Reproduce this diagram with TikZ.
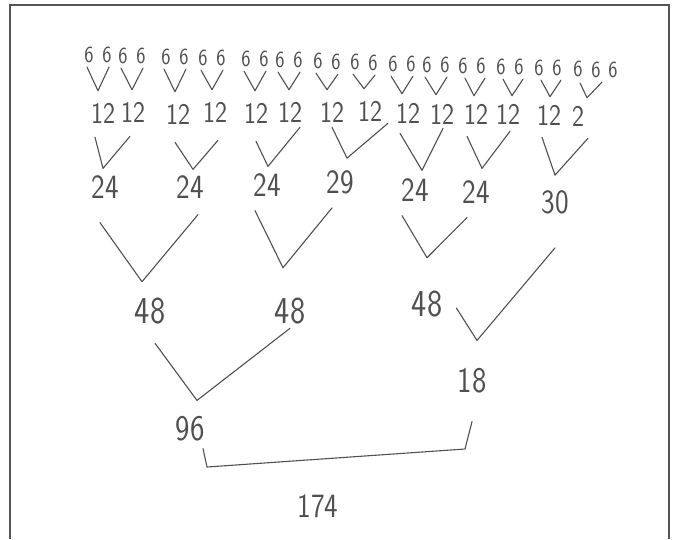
\documentclass[tikz,border=0pt]{standalone}
\usepackage{fontspec}
\usepackage{tikz}
\usetikzlibrary{calc}
\newfontfamily\hand{Latin Modern Sans}[FakeStretch=0.85]
\definecolor{ink}{HTML}{505050}
\definecolor{framegray}{HTML}{555555}

\begin{document}
\begin{tikzpicture}[x=1pt, y=-1pt,
    num/.style={text=ink, inner sep=2pt, font=\hand\fontsize{#1}{#1}\selectfont},
    num/.default=34,
    vee/.style={ink, line width=1.1pt, line cap=round, line join=round}]
  \useasboundingbox (0,0) rectangle (679,539);
  % Rahmen (unten offen)
  \draw[framegray, line width=1.3pt] (10,539) -- (10,5) -- (669,5) -- (669,539);
  % erste Zeile: Sechsen
  \node[num=23] (s1) at (89,55) {6};   \node[num=23] (s2) at (107,55) {6};
  \node[num=23] (s3) at (123,56) {6};  \node[num=23] (s4) at (141,56) {6};
  \node[num=23] (s5) at (166,57) {6};  \node[num=23] (s6) at (184,57) {6};
  \node[num=23] (s7) at (203,58) {6};  \node[num=23] (s8) at (221,58) {6};
  \node[num=23] (s9) at (246,59) {6};  \node[num=23] (s10) at (264,59) {6};
  \node[num=23] (s11) at (280,60) {6}; \node[num=23] (s12) at (298,60) {6};
  \node[num=23] (s13) at (318,61) {6}; \node[num=23] (s14) at (336,62) {6};
  \node[num=23] (s15) at (355,62) {6}; \node[num=23] (s16) at (373,63) {6};
  \node[num=23] (s17) at (393,64) {6}; \node[num=23] (s18) at (411,64) {6};
  \node[num=23] (s19) at (427,65) {6}; \node[num=23] (s20) at (445,65) {6};
  \node[num=23] (s21) at (463,66) {6}; \node[num=23] (s22) at (481,66) {6};
  \node[num=23] (s23) at (501,67) {6}; \node[num=23] (s24) at (519,67) {6};
  \node[num=23] (s25) at (539,68) {6}; \node[num=23] (s26) at (557,68) {6};
  \node[num=23] (s27) at (578,69) {6}; \node[num=23] (s28) at (596,70) {6};
  \node[num=23] (s29) at (613,70) {6};
  % zweite Zeile
  \node[num=30] (t1) at (103,113) {12};  \node[num=30] (t2) at (133,112) {12};
  \node[num=30] (t3) at (178,114) {12};  \node[num=30] (t4) at (215,112) {12};
  \node[num=30] (t5) at (256,113) {12};  \node[num=30] (t6) at (290,112) {12};
  \node[num=30] (t7) at (332,112) {12};  \node[num=30] (t8) at (370,111) {12};
  \node[num=30] (t9) at (408,113) {12};  \node[num=30] (t10) at (442,114) {12};
  \node[num=30] (t11) at (476,114) {12}; \node[num=30] (t12) at (508,114) {12};
  \node[num=30] (t13) at (549,115) {12}; \node[num=30] (t14) at (578,116) {2};
  \draw[vee] ([xshift=-2pt,yshift=-2pt]s1.south) -- ([xshift=-5pt,yshift=10pt]t1.north) -- ([xshift=2pt,yshift=-2pt]s2.south);
  \draw[vee] ([xshift=-2pt,yshift=-2pt]s3.south) -- ([xshift=-1pt,yshift=10pt]t2.north) -- ([xshift=2pt,yshift=-2pt]s4.south);
  \draw[vee] ([xshift=-2pt,yshift=-2pt]s5.south) -- ([xshift=-3pt,yshift=10pt]t3.north) -- ([xshift=2pt,yshift=-2pt]s6.south);
  \draw[vee] ([xshift=-2pt,yshift=-2pt]s7.south) -- ([xshift=-3pt,yshift=10pt]t4.north) -- ([xshift=2pt,yshift=-2pt]s8.south);
  \draw[vee] ([xshift=-2pt,yshift=-2pt]s9.south) -- ([xshift=-1pt,yshift=10pt]t5.north) -- ([xshift=2pt,yshift=-2pt]s10.south);
  \draw[vee] ([xshift=-2pt,yshift=-2pt]s11.south) -- ([xshift=-1pt,yshift=10pt]t6.north) -- ([xshift=2pt,yshift=-2pt]s12.south);
  \draw[vee] ([xshift=-2pt,yshift=-2pt]s13.south) -- ([xshift=-5pt,yshift=10pt]t7.north) -- ([xshift=2pt,yshift=-2pt]s14.south);
  \draw[vee] ([xshift=-2pt,yshift=-2pt]s15.south) -- ([xshift=-6pt,yshift=10pt]t8.north) -- ([xshift=2pt,yshift=-2pt]s16.south);
  \draw[vee] ([xshift=-2pt,yshift=-2pt]s17.south) -- ([xshift=-6pt,yshift=7pt]t9.north) -- ([xshift=2pt,yshift=-2pt]s18.south);
  \draw[vee] ([xshift=-2pt,yshift=-2pt]s19.south) -- ([xshift=-6pt,yshift=7pt]t10.north) -- ([xshift=2pt,yshift=-2pt]s20.south);
  \draw[vee] ([xshift=2pt,yshift=-2pt]s21.south) -- ([xshift=-2pt,yshift=6pt]t11.north) -- ([xshift=4pt,yshift=-2pt]s22.south);
  \draw[vee] ([xshift=2pt,yshift=-2pt]s23.south) -- ([xshift=4pt,yshift=6pt]t12.north) -- ([xshift=4pt,yshift=-2pt]s24.south);
  \draw[vee] ([xshift=2pt,yshift=-2pt]s25.south) -- ([xshift=1pt,yshift=6pt]t13.north) -- ([xshift=4pt,yshift=-2pt]s26.south);
  \draw[vee] ([xshift=2pt,yshift=-4pt]s27.south) -- ([xshift=9pt,yshift=6pt]t14.north) -- ([xshift=6pt,yshift=-2pt]s28.south);
  % dritte Zeile
  \node[num] (f1) at (105,187) {24};
  \node[num] (f2) at (190,187) {24};
  \node[num] (f3) at (267,185) {24};
  \node[num] (f4) at (340,182) {29};
  \node[num] (f5) at (415,190) {24};
  \node[num] (f6) at (476,192) {24};
  \node[num] (f7) at (555,202) {30};
  \draw[vee] ([xshift=-8pt,yshift=-12pt]t1.south) -- ([xshift=-2pt,yshift=5pt]f1.north) -- ([xshift=-3pt,yshift=-12pt]t2.south);
  \draw[vee] ([xshift=-3pt,yshift=-16pt]t3.south) -- ([xshift=3pt,yshift=4pt]f2.north) -- ([xshift=3pt,yshift=-16pt]t4.south);
  \draw[vee] ([yshift=-16pt]t5.south) -- ([xshift=1pt,yshift=5pt]f3.north) -- ([xshift=10pt,yshift=-3pt]t6.south);
  \draw[vee] ([yshift=-3pt]t7.south) -- ([xshift=7pt,yshift=10pt]f4.north) -- ([xshift=18pt]t8.south);
  \draw[vee] ([xshift=-8pt,yshift=-8pt]t9.south) -- ([xshift=7pt,yshift=6pt]f5.north) -- ([xshift=1pt,yshift=-2pt]t10.south);
  \draw[vee] ([xshift=-9pt,yshift=-10pt]t11.south) -- ([xshift=6pt,yshift=10pt]f6.north) -- ([xshift=2pt,yshift=-5pt]t12.south);
  \draw[vee] ([xshift=-7pt,yshift=-10pt]t13.south) -- ([yshift=13pt]f7.north) -- ([xshift=10pt,yshift=-10pt]t14.south);
  % vierte Zeile
  \node[num=38] (e1) at (150,311) {48};
  \node[num=38] (e2) at (290,311) {48};
  \node[num=38] (e3) at (427,304) {48};
  \node[num=36] (h) at (472,381) {18};
  \draw[vee] ([xshift=-5pt,yshift=-22pt]f1.south) -- ([xshift=-8pt,yshift=14pt]e1.north) -- ([xshift=8pt,yshift=-14pt]f2.south);
  \draw[vee] ([xshift=-12pt,yshift=-12pt]f3.south) -- ([xshift=-7pt,yshift=28pt]e2.north) -- ([xshift=-8pt,yshift=-12pt]f4.south);
  \draw[vee] ([xshift=-13pt,yshift=-12pt]f5.south) -- ([yshift=31pt]e3.north) -- ([xshift=-9pt,yshift=-12pt]f6.south);
  \draw[vee] ([xshift=12pt,yshift=-4pt]e3.east) -- ([xshift=5pt,yshift=26pt]h.north) -- ([yshift=-32pt]f7.south);
  % fuenfte Zeile
  \node[num=36] (n) at (190,429) {96};
  \draw[vee] ([xshift=5pt,yshift=-17pt]e1.south) -- ([xshift=7pt,yshift=14pt]n.north) -- ([yshift=-2pt]e2.south);
  % Klammer und Summe
  \coordinate (bl) at (207,467);
  \coordinate (br) at (465,449);
  \draw[vee] ([xshift=13pt,yshift=-5pt]n.south) -- (bl) -- (br) -- ([yshift=-26pt]h.south);
  \node[num=34] (sum) at (318,506) {174};
\end{tikzpicture}
\end{document}
